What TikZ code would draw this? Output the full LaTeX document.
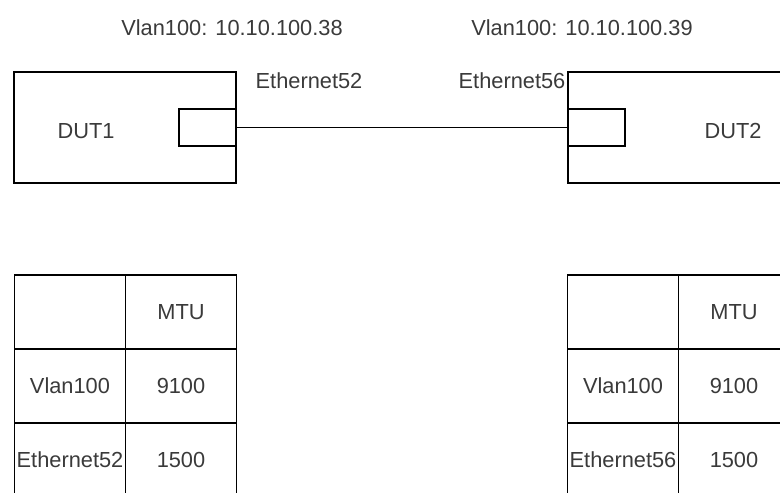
\documentclass[tikz,border=0pt]{standalone}
\usepackage{fontspec}
\setmainfont{Liberation Sans}
\usepackage{tikz}
\usetikzlibrary{positioning}
\definecolor{LabelGray}{HTML}{3A3A3A}

\tikzset{
  devbox/.style={draw, line width=1.2pt, minimum height=111pt, inner sep=0pt},
  portbox/.style={draw, line width=1.2pt, minimum width=57pt, minimum height=37pt, inner sep=0pt},
  cell/.style={draw, line width=1.2pt, minimum width=111pt, minimum height=74pt, inner sep=0pt, text=LabelGray},
  lbl/.style={text=LabelGray, inner sep=0pt}
}

\begin{document}
\begin{tikzpicture}[x=1pt, y=-1pt, font=\fontsize{21.8}{26}\selectfont]
  \useasboundingbox (0,0) rectangle (780,493);
  \clip (0,0) rectangle (780,493);
  % devices
  \node[devbox, minimum width=222pt] (dut1) at (125,127.5) {};
  \node[devbox, minimum width=240pt] (dut2) at (688,127.5) {};
  \node[portbox] (p52) at (207.5,127.5) {};
  \node[portbox] (p56) at (596.5,127.5) {};
  \draw[line width=1.2pt] (p52.east) -- (p56.west);
  \node[lbl] (dut1name) at (86,131) {DUT1};
  \node[lbl] (dut2name) at (733,131) {DUT2};
  \node[lbl] (eth52) at (309,81) {Ethernet52};
  \node[lbl] (eth56) at (512,81) {Ethernet56};
  \node[lbl] (ip1) at (232,28) {Vlan100: 10.10.100.38};
  \node[lbl] (ip2) at (582,28) {Vlan100: 10.10.100.39};
  % MTU table DUT1
  \node[cell] (l11) at (70,312) {};
  \node[cell] (l12) at (181,312) {MTU};
  \node[cell] (l21) at (70,386) {Vlan100};
  \node[cell] (l22) at (181,386) {9100};
  \node[cell] (l31) at (70,460) {Ethernet52};
  \node[cell] (l32) at (181,460) {1500};
  % MTU table DUT2
  \node[cell] (r11) at (623,312) {};
  \node[cell] (r12) at (734,312) {MTU};
  \node[cell] (r21) at (623,386) {Vlan100};
  \node[cell] (r22) at (734,386) {9100};
  \node[cell] (r31) at (623,460) {Ethernet56};
  \node[cell] (r32) at (734,460) {1500};
\end{tikzpicture}
\end{document}
